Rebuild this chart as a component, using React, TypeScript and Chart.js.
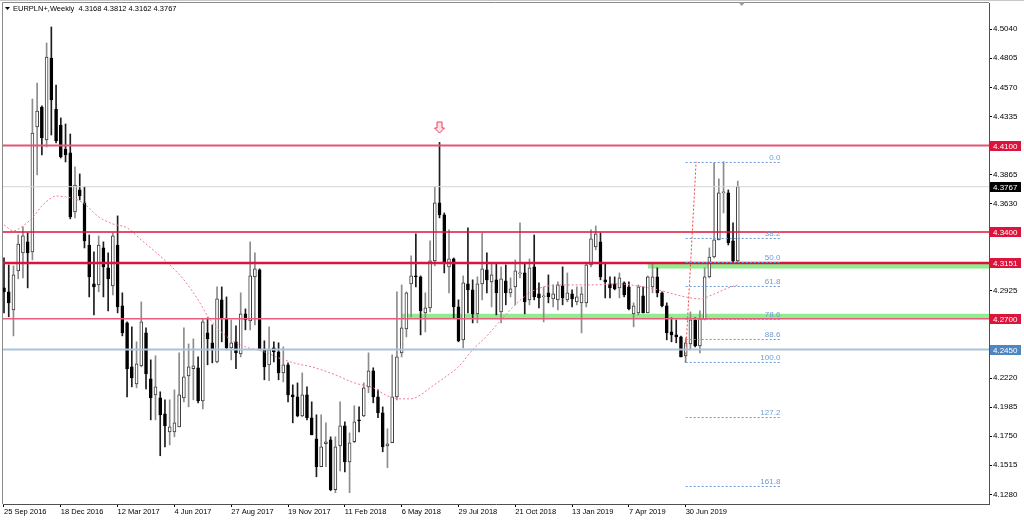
import React, { useEffect, useRef } from 'react';
import { Chart, registerables } from 'chart.js';

Chart.register(...registerables);

const FONT = '"Liberation Sans", Arial, sans-serif';

const symbolName = 'EURPLN+';
const timeframe = 'Weekly';

// Weekly candles, week 0 = 25 Sep 2016
const opens = [
  4.2949, 4.2917, 4.2771, 4.3086, 4.3232, 4.3321, 4.3240, 4.4250, 4.4411, 4.4145,
  4.4807, 4.4395, 4.4266, 4.4072, 4.4040, 4.3563, 4.3741, 4.3636, 4.3296, 4.2981,
  4.2973, 4.3272, 4.3111, 4.2965, 4.3296, 4.2804, 4.2666, 4.2311, 4.2173, 4.2319,
  4.2585, 4.2214, 4.2084, 4.2060, 4.1931, 4.1785, 4.1785, 4.1826, 4.2060, 4.2238,
  4.2295, 4.2303, 4.2036, 4.2585, 4.2505, 4.2351, 4.2852, 4.2699, 4.2464, 4.2513,
  4.2416, 4.2739, 4.2682, 4.3038, 4.3094, 4.2456, 4.2327, 4.2464, 4.2432, 4.2262,
  4.2327, 4.2084, 4.2068, 4.1915, 4.2084, 4.1899, 4.1729, 4.1503, 4.1689, 4.1721,
  4.1317, 4.1672, 4.1834, 4.1543, 4.1705, 4.1882, 4.1915, 4.2149, 4.2278, 4.2068,
  4.1939, 4.1672, 4.1697, 4.2068, 4.2424, 4.2618, 4.2981, 4.3046, 4.3038, 4.2747,
  4.2787, 4.3167, 4.3636, 4.3539, 4.3119, 4.3183, 4.2795, 4.2529, 4.2981, 4.2933,
  4.2739, 4.2981, 4.3094, 4.2997, 4.3014, 4.2755, 4.3006, 4.2909, 4.2957, 4.3062,
  4.3070, 4.2852, 4.3119, 4.2900, 4.2876, 4.2909, 4.2860, 4.2852, 4.2965, 4.2852,
  4.2900, 4.2836, 4.2828, 4.2828, 4.3135, 4.3280, 4.3321, 4.3014, 4.2981, 4.2981,
  4.2949, 4.2989, 4.2957, 4.2739, 4.2747, 4.2884, 4.2747, 4.2957, 4.3038, 4.2909,
  4.2804, 4.2593, 4.2569, 4.2553, 4.2400, 4.2496, 4.2690, 4.2480, 4.2699, 4.3038,
  4.3199, 4.3337, 4.3717, 4.3717, 4.3329, 4.3168,
];
const highs = [
  4.3191, 4.3135, 4.3127, 4.3377, 4.3442, 4.3393, 4.4476, 4.4605, 4.4420, 4.4929,
  4.5058, 4.4589, 4.4323, 4.4274, 4.4193, 4.3927, 4.3870, 4.3765, 4.3377, 4.3240,
  4.3369, 4.3321, 4.3232, 4.3393, 4.3531, 4.2909, 4.2674, 4.2634, 4.2513, 4.2836,
  4.2626, 4.2367, 4.2400, 4.2109, 4.2044, 4.2044, 4.2125, 4.2424, 4.2626, 4.2496,
  4.2537, 4.2391, 4.2699, 4.2707, 4.2650, 4.2957, 4.2957, 4.2876, 4.2690, 4.2642,
  4.2909, 4.2779, 4.3321, 4.3232, 4.3103, 4.2521, 4.2634, 4.2513, 4.2505, 4.2472,
  4.2343, 4.2165, 4.2181, 4.2262, 4.2149, 4.2028, 4.1923, 4.1923, 4.1858, 4.1745,
  4.1745, 4.2028, 4.1866, 4.1777, 4.1996, 4.1987, 4.2181, 4.2424, 4.2303, 4.2125,
  4.1987, 4.1810, 4.2408, 4.2917, 4.2973, 4.2917, 4.3208, 4.3385, 4.3046, 4.2909,
  4.3329, 4.3765, 4.4125, 4.3555, 4.3418, 4.3191, 4.2852, 4.3046, 4.3434, 4.3014,
  4.3038, 4.3393, 4.3232, 4.3151, 4.3151, 4.3119, 4.3135, 4.3030, 4.3175, 4.3474,
  4.3151, 4.3183, 4.3377, 4.2989, 4.2957, 4.3054, 4.2973, 4.2997, 4.3119, 4.3070,
  4.2933, 4.2957, 4.2957, 4.3151, 4.3418, 4.3450, 4.3393, 4.3151, 4.3038, 4.3038,
  4.3070, 4.2997, 4.2997, 4.2828, 4.2973, 4.2957, 4.3046, 4.3151, 4.3111, 4.2917,
  4.2828, 4.2707, 4.2690, 4.2560, 4.2545, 4.2755, 4.2707, 4.2763, 4.3111, 4.3272,
  4.3960, 4.3830, 4.3969, 4.3741, 4.3474, 4.3812,
];
const lows = [
  4.2747, 4.2715, 4.2561, 4.3022, 4.3030, 4.2949, 4.3175, 4.3862, 4.4024, 4.4088,
  4.4185, 4.4121, 4.3999, 4.3967, 4.3507, 4.3515, 4.3660, 4.3272, 4.2876, 4.2731,
  4.2917, 4.2876, 4.2763, 4.2892, 4.2747, 4.2561, 4.2068, 4.2149, 4.2141, 4.2311,
  4.2133, 4.1882, 4.1882, 4.1592, 4.1664, 4.1680, 4.1745, 4.1826, 4.2028, 4.1987,
  4.2044, 4.2020, 4.1971, 4.2327, 4.2343, 4.2343, 4.2513, 4.2448, 4.2367, 4.2295,
  4.2391, 4.2610, 4.2610, 4.2650, 4.2448, 4.2206, 4.2198, 4.2351, 4.2206, 4.2189,
  4.2028, 4.1858, 4.1907, 4.1907, 4.1882, 4.1761, 4.1422, 4.1503, 4.1503, 4.1309,
  4.1293, 4.1470, 4.1462, 4.1293, 4.1697, 4.1785, 4.1907, 4.2101, 4.2020, 4.1899,
  4.1624, 4.1495, 4.1697, 4.2044, 4.2391, 4.2553, 4.2715, 4.2957, 4.2569, 4.2593,
  4.2755, 4.3127, 4.3515, 4.3070, 4.2909, 4.2707, 4.2513, 4.2464, 4.2747, 4.2666,
  4.2666, 4.2852, 4.2909, 4.2795, 4.2731, 4.2666, 4.2812, 4.2876, 4.2812, 4.3030,
  4.2739, 4.2812, 4.2852, 4.2787, 4.2674, 4.2828, 4.2795, 4.2771, 4.2812, 4.2836,
  4.2795, 4.2812, 4.2585, 4.2795, 4.3119, 4.3256, 4.3014, 4.2868, 4.2868, 4.2933,
  4.2868, 4.2876, 4.2771, 4.2634, 4.2731, 4.2747, 4.2747, 4.2909, 4.2876, 4.2795,
  4.2529, 4.2513, 4.2505, 4.2391, 4.2347, 4.2448, 4.2472, 4.2424, 4.2690, 4.3030,
  4.3191, 4.3337, 4.3555, 4.3296, 4.3159, 4.3162,
];
const closes = [
  4.2917, 4.2828, 4.3054, 4.3304, 4.3369, 4.3232, 4.4201, 4.4379, 4.4161, 4.4815,
  4.4468, 4.4137, 4.4007, 4.4024, 4.3523, 4.3781, 4.3692, 4.3329, 4.3038, 4.2957,
  4.3296, 4.3119, 4.3022, 4.3369, 4.2795, 4.2585, 4.2295, 4.2222, 4.2335, 4.2674,
  4.2254, 4.2060, 4.2149, 4.1923, 4.1834, 4.1826, 4.1858, 4.2084, 4.2230, 4.2311,
  4.2319, 4.2036, 4.2674, 4.2537, 4.2456, 4.2860, 4.2707, 4.2464, 4.2505, 4.2424,
  4.2739, 4.2690, 4.3046, 4.3103, 4.2456, 4.2311, 4.2448, 4.2432, 4.2262, 4.2327,
  4.2084, 4.2068, 4.1915, 4.2084, 4.1899, 4.1761, 4.1503, 4.1664, 4.1705, 4.1317,
  4.1664, 4.1834, 4.1543, 4.1697, 4.1866, 4.1874, 4.2141, 4.2278, 4.2068, 4.1939,
  4.1664, 4.1689, 4.2068, 4.2391, 4.2626, 4.2909, 4.3046, 4.3038, 4.2763, 4.2787,
  4.3167, 4.3636, 4.3539, 4.3151, 4.3183, 4.2795, 4.2521, 4.2989, 4.2933, 4.2739,
  4.2981, 4.3103, 4.3014, 4.3054, 4.2909, 4.3022, 4.2909, 4.2941, 4.3086, 4.3070,
  4.2836, 4.3111, 4.2876, 4.2868, 4.2884, 4.2876, 4.2900, 4.2973, 4.2868, 4.2909,
  4.2860, 4.2876, 4.2900, 4.3135, 4.3345, 4.3385, 4.3038, 4.2997, 4.2949, 4.2941,
  4.3030, 4.2892, 4.2779, 4.2804, 4.2957, 4.2747, 4.3038, 4.3038, 4.2909, 4.2804,
  4.2585, 4.2569, 4.2553, 4.2391, 4.2505, 4.2690, 4.2480, 4.2699, 4.3038, 4.3199,
  4.3337, 4.3717, 4.3725, 4.3313, 4.3167, 4.3767,
];

// Moving average (read at selected weeks)
const maIdx = [0, 2, 4, 6, 8, 10, 11, 13, 15, 17, 20, 23, 26, 29, 32, 35, 38, 41, 43, 45, 48, 51, 55, 58, 62, 65, 70, 74, 78, 81, 84, 86, 88, 90, 93, 96, 99, 102, 105, 108, 111, 114, 118, 124, 130, 135, 139, 143, 147, 150, 153, 155];
const maVal = [4.3458, 4.3410, 4.3450, 4.3515, 4.3612, 4.3676, 4.3692, 4.3684, 4.3668, 4.3628, 4.3523, 4.3466, 4.3434, 4.3337, 4.3240, 4.3135, 4.3014, 4.2852, 4.2723, 4.2626, 4.2529, 4.2472, 4.2432, 4.2383, 4.2335, 4.2311, 4.2246, 4.2181, 4.2141, 4.2076, 4.2052, 4.2052, 4.2084, 4.2141, 4.2222, 4.2311, 4.2448, 4.2561, 4.2690, 4.2812, 4.2909, 4.2957, 4.2973, 4.2973, 4.2981, 4.2957, 4.2925, 4.2884, 4.2860, 4.2900, 4.2949, 4.2973];

const xTickIdx = [0, 12, 24, 36, 48, 60, 72, 84, 96, 108, 120, 132, 144];
const xTickLabels = ['25 Sep 2016', '18 Dec 2016', '12 Mar 2017', '4 Jun 2017', '27 Aug 2017', '19 Nov 2017', '11 Feb 2018', '6 May 2018', '29 Jul 2018', '21 Oct 2018', '13 Jan 2019', '7 Apr 2019', '30 Jun 2019'];
const yTickValues = [4.5040, 4.4805, 4.4570, 4.4335, 4.3865, 4.3630, 4.2925, 4.2220, 4.1985, 4.1750, 4.1515, 4.1280];

const hLevels = [4.4100, 4.3767, 4.3400, 4.3151, 4.2700, 4.2450];
const zoneFromIdx = [136, 84];
const zoneTop = [4.3151, 4.2740];
const zoneBottom = [4.3105, 4.2705];

const fibLevels = [0, 38.2, 50, 61.8, 78.6, 88.6, 100, 127.2, 161.8];
const fibHigh = 4.3969;
const fibLow = 4.2347;
const fibFromIdx = 144;
const fibToIdx = 164;
const fibTrendIdx = [143.9, 146.2];
const fibTrendVal = [fibLow, fibHigh];

const arrowIdx = 92;
const arrowPrice = 4.4290;

// styles
const levelStyle = [
  { color: '#e25675', width: 2, box: '#dc143c' },
  { color: '#d6d6d6', width: 1, box: '#000000' },
  { color: '#dc143c', width: 1.5, box: '#dc143c' },
  { color: '#dc143c', width: 2.5, box: '#dc143c' },
  { color: '#e85d7c', width: 1.5, box: '#dc143c' },
  { color: '#a9c3dc', width: 2, box: '#4f86c2' },
];

const X_MIN = -0.211;
const X_MAX = 208.07;
const Y_MIN = 4.1202;
const Y_MAX = 4.5252;

const overlay: any = {
  id: 'overlay',
  beforeDatasetsDraw(chart: any) {
    const { ctx, chartArea: a, scales } = chart;
    const x = scales.x, y = scales.y;
    ctx.save();
    ctx.fillStyle = '#90ee90';
    zoneFromIdx.forEach((f, i) => {
      const x0 = x.getPixelForValue(f);
      const y0 = y.getPixelForValue(zoneTop[i]);
      const y1 = y.getPixelForValue(zoneBottom[i]);
      ctx.fillRect(x0, y0, a.right - x0, y1 - y0);
    });
    ctx.restore();
  },
  afterDatasetsDraw(chart: any) {
    const { ctx, chartArea: a, scales } = chart;
    const x = scales.x, y = scales.y;
    ctx.save();
    ctx.beginPath();
    ctx.rect(a.left, a.top, a.right - a.left, a.bottom - a.top);
    ctx.clip();
    hLevels.forEach((v, i) => {
      const py = y.getPixelForValue(v);
      ctx.strokeStyle = levelStyle[i].color;
      ctx.lineWidth = levelStyle[i].width;
      ctx.beginPath();
      ctx.moveTo(a.left, py);
      ctx.lineTo(a.right, py);
      ctx.stroke();
    });
    const x0 = x.getPixelForValue(fibFromIdx);
    const x1 = x.getPixelForValue(fibToIdx);
    ctx.setLineDash([2, 2]);
    ctx.lineWidth = 1;
    ctx.strokeStyle = '#6f9bd3';
    ctx.fillStyle = '#6f9bd3';
    ctx.font = `8px ${FONT}`;
    ctx.textAlign = 'right';
    ctx.textBaseline = 'bottom';
    fibLevels.forEach((l) => {
      const v = fibHigh - (l / 100) * (fibHigh - fibLow);
      const py = Math.round(y.getPixelForValue(v)) + 0.5;
      ctx.beginPath();
      ctx.moveTo(x0, py);
      ctx.lineTo(x1, py);
      ctx.stroke();
      ctx.fillText(l.toFixed(1), x1, py - 1);
    });
    ctx.setLineDash([]);
    const ax = x.getPixelForValue(arrowIdx);
    const ay = y.getPixelForValue(arrowPrice);
    ctx.beginPath();
    ctx.moveTo(ax - 2.5, ay);
    ctx.lineTo(ax + 2.5, ay);
    ctx.lineTo(ax + 2.5, ay + 6);
    ctx.lineTo(ax + 5, ay + 6);
    ctx.lineTo(ax, ay + 11);
    ctx.lineTo(ax - 5, ay + 6);
    ctx.lineTo(ax - 2.5, ay + 6);
    ctx.closePath();
    ctx.fillStyle = '#fde4ea';
    ctx.fill();
    ctx.strokeStyle = '#e8405c';
    ctx.lineWidth = 1;
    ctx.stroke();
    ctx.restore();
  },
  afterDraw(chart: any) {
    const { ctx, chartArea: a, scales } = chart;
    const x = scales.x, y = scales.y;
    ctx.save();
    ctx.strokeStyle = '#8a8a8a';
    ctx.lineWidth = 1;
    ctx.beginPath();
    ctx.moveTo(a.left - 0.5, a.bottom);
    ctx.lineTo(a.left - 0.5, a.top - 0.5);
    ctx.lineTo(a.right, a.top - 0.5);
    ctx.stroke();
    ctx.strokeStyle = '#c8c8c8';
    ctx.beginPath();
    ctx.moveTo(0, 0.5);
    ctx.lineTo(chart.width, 0.5);
    ctx.stroke();
    ctx.font = `8px ${FONT}`;
    ctx.textAlign = 'left';
    ctx.textBaseline = 'middle';
    hLevels.forEach((v, i) => {
      const py = Math.round(y.getPixelForValue(v));
      ctx.fillStyle = levelStyle[i].box;
      ctx.fillRect(a.right + 1, py - 5, 31, 10);
      ctx.fillStyle = '#ffffff';
      ctx.fillText(v.toFixed(4), a.right + 4, py + 0.5);
    });
    ctx.fillStyle = '#000';
    ctx.beginPath();
    ctx.moveTo(5, 7);
    ctx.lineTo(10, 7);
    ctx.lineTo(7.5, 10);
    ctx.closePath();
    ctx.fill();
    const last = opens.length - 1;
    const header = `${symbolName},${timeframe}  ${opens[last].toFixed(4)} ${highs[last].toFixed(4)} ${lows[last].toFixed(4)} ${closes[last].toFixed(4)}`;
    ctx.font = `7.5px ${FONT}`;
    ctx.textBaseline = 'middle';
    ctx.fillText(header, 13, 8.5);
    const sx = x.getPixelForValue(last) + 4;
    ctx.fillStyle = '#9a9a9a';
    ctx.beginPath();
    ctx.moveTo(sx - 3.5, 2);
    ctx.lineTo(sx + 3.5, 2);
    ctx.lineTo(sx, 6);
    ctx.closePath();
    ctx.fill();
    ctx.restore();
  },
};

export default function App() {
  const ref = useRef<HTMLCanvasElement>(null);
  useEffect(() => {
    document.body.style.margin = '0';
    const canvas = ref.current as HTMLCanvasElement;
    const idx = opens.map((_, i) => i);
    const isBull = (i: number) => closes[i] >= opens[i];
    const chart = new Chart(canvas, {
      type: 'bar',
      data: {
        datasets: [
          {
            type: 'line',
            data: maIdx.map((v, i) => ({ x: v, y: maVal[i] })),
            borderColor: '#f07a93',
            borderWidth: 1,
            borderDash: [2, 2],
            pointRadius: 0,
            cubicInterpolationMode: 'monotone',
            order: 0,
          } as any,
          {
            type: 'line',
            data: fibTrendIdx.map((v, i) => ({ x: v, y: fibTrendVal[i] })),
            borderColor: '#ff3b3b',
            borderWidth: 1,
            borderDash: [2, 2],
            pointRadius: 0,
            order: -1,
          } as any,
          {
            type: 'bar',
            data: idx.map((i) => ({ x: i, y: [opens[i], closes[i]] })),
            barThickness: 3,
            grouped: false,
            minBarLength: 1,
            borderSkipped: false,
            borderWidth: 1,
            backgroundColor: (c: any) => (c.dataIndex !== undefined && isBull(c.dataIndex) ? '#ffffff' : '#000000'),
            borderColor: (c: any) => (c.dataIndex !== undefined && isBull(c.dataIndex) ? '#3c3c3c' : '#000000'),
            order: 1,
          } as any,
          {
            type: 'bar',
            data: idx.map((i) => ({ x: i, y: [lows[i], highs[i]] })),
            barThickness: 1,
            grouped: false,
            minBarLength: 1,
            borderWidth: 0,
            backgroundColor: (c: any) => (c.dataIndex !== undefined && isBull(c.dataIndex) ? '#8c8c8c' : '#1c1c1c'),
            order: 2,
          } as any,
        ],
      },
      options: {
        responsive: false,
        animation: false,
        devicePixelRatio: 1,
        events: [],
        layout: { padding: { left: 3, top: 3, right: 0, bottom: 0 } },
        plugins: {
          legend: { display: false },
          tooltip: { enabled: false },
          title: { display: false },
        },
        scales: {
          x: {
            type: 'linear',
            min: X_MIN,
            max: X_MAX,
            offset: false,
            grid: { display: true, offset: false, drawOnChartArea: false, drawTicks: true, tickLength: 3, color: '#000' },
            border: { display: true, color: '#505050' },
            ticks: {
              autoSkip: false,
              maxRotation: 0,
              minRotation: 0,
              align: 'start',
              padding: 0,
              color: '#000',
              font: { family: FONT, size: 7.5 },
              callback: (v: any) => {
                const k = xTickIdx.indexOf(Number(v));
                return k >= 0 ? xTickLabels[k] : '';
              },
            },
            afterBuildTicks: (s: any) => {
              s.ticks = xTickIdx.map((v) => ({ value: v }));
            },
            afterFit: (s: any) => {
              s.height = 16;
              s.paddingLeft = 0;
              s.paddingRight = 0;
            },
          },
          y: {
            type: 'linear',
            position: 'right',
            min: Y_MIN,
            max: Y_MAX,
            grid: { display: true, drawOnChartArea: false, drawTicks: true, tickLength: 3, color: '#000' },
            border: { display: true, color: '#505050' },
            ticks: {
              padding: 1,
              color: '#000',
              font: { family: FONT, size: 8 },
              callback: (v: any) => Number(v).toFixed(4),
            },
            afterBuildTicks: (s: any) => {
              s.ticks = yTickValues.map((v) => ({ value: v }));
            },
            afterFit: (s: any) => {
              s.width = 35;
              s.paddingTop = 0;
              s.paddingBottom = 0;
            },
          },
        } as any,
      } as any,
      plugins: [overlay],
    });
    return () => chart.destroy();
  }, []);
  return <canvas ref={ref} width={1024} height={520} style={{ display: 'block' }} />;
}
